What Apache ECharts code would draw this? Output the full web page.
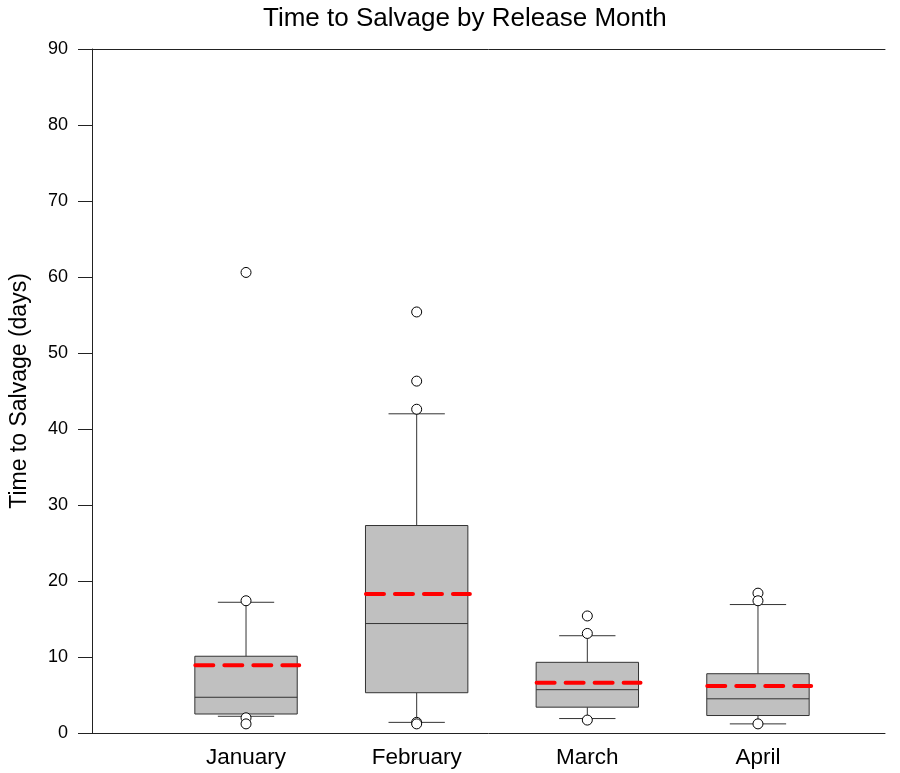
<!DOCTYPE html>
<html>
<head>
<meta charset="utf-8">
<title>Time to Salvage by Release Month</title>
<style>
  html, body { margin: 0; padding: 0; background: #fff; }
  #chart { width: 900px; height: 773px; }
</style>
</head>
<body>
<div id="chart"></div>
<script src="https://cdn.jsdelivr.net/npm/echarts@6/dist/echarts.min.js"></script>
<script>
  // data
  var months = ['January', 'February', 'March', 'April'];
  var whiskerLow = [2.2, 1.4, 1.9, 1.2];
  var q1 = [2.5, 5.3, 3.4, 2.3];
  var median = [4.7, 14.4, 5.7, 4.5];
  var q3 = [10.1, 27.3, 9.3, 7.8];
  var whiskerHigh = [17.2, 42.0, 12.8, 16.9];
  var means = [8.9, 18.3, 6.6, 6.2];
  var outliers = [
    ['January', 60.6], ['January', 17.4], ['January', 2.0], ['January', 1.2],
    ['February', 55.4], ['February', 46.3], ['February', 42.6], ['February', 1.4], ['February', 1.2],
    ['March', 15.4], ['March', 13.1], ['March', 1.7],
    ['April', 18.4], ['April', 17.4], ['April', 1.2]
  ];
  var yTicks = { min: 0, max: 90, interval: 10 };

  var boxRows = months.map(function (m, i) {
    return [m, whiskerLow[i], q1[i], median[i], q3[i], whiskerHigh[i], means[i]];
  });

  var font = 'Liberation Sans, Arial, sans-serif';

  function renderBox(params, api) {
    var x = api.value(0);
    var pLow = api.coord([x, api.value(1)]);
    var pQ1 = api.coord([x, api.value(2)]);
    var pMed = api.coord([x, api.value(3)]);
    var pQ3 = api.coord([x, api.value(4)]);
    var pHigh = api.coord([x, api.value(5)]);
    var pMean = api.coord([x, api.value(6)]);
    var band = api.size([1, 0])[0];
    var bw = band * 0.6;
    var cw = band * 0.165;
    var cx = pMed[0];
    var thin = { stroke: '#333', lineWidth: 1 };
    return {
      type: 'group',
      children: [
        { type: 'line', shape: { x1: cx, y1: pQ3[1], x2: cx, y2: pHigh[1] }, style: thin },
        { type: 'line', shape: { x1: cx, y1: pQ1[1], x2: cx, y2: pLow[1] }, style: thin },
        { type: 'line', shape: { x1: cx - cw, y1: pHigh[1], x2: cx + cw, y2: pHigh[1] }, style: thin },
        { type: 'line', shape: { x1: cx - cw, y1: pLow[1], x2: cx + cw, y2: pLow[1] }, style: thin },
        {
          type: 'rect',
          shape: { x: cx - bw / 2, y: pQ3[1], width: bw, height: pQ1[1] - pQ3[1] },
          style: { fill: '#c0c0c0', stroke: '#333', lineWidth: 1 }
        },
        { type: 'line', shape: { x1: cx - bw / 2, y1: pMed[1], x2: cx + bw / 2, y2: pMed[1] }, style: { stroke: '#333', lineWidth: 1 } },
        {
          type: 'line',
          shape: { x1: cx - bw / 2 + 0.5, y1: pMean[1], x2: cx + bw / 2 + 2, y2: pMean[1] },
          style: { stroke: '#ff0000', lineWidth: 4, lineDash: [18, 11], lineCap: 'round' }
        }
      ]
    };
  }

  var chart = echarts.init(document.getElementById('chart'));
  var option = {
    animation: false,
    title: {
      text: 'Time to Salvage by Release Month',
      left: 258,
      top: 1,
      textStyle: { fontFamily: font, fontSize: 26, fontWeight: 'normal', color: '#000' }
    },
    grid: [
      { left: 92, right: 15, top: 49, bottom: 40 },
      { left: 160.7, right: 56.7, top: 49, bottom: 40 }
    ],
    xAxis: [
      {
        gridIndex: 0, type: 'value', position: 'bottom', min: 0, max: 1,
        axisLine: { show: true, lineStyle: { color: '#222', width: 1 } },
        axisTick: { show: false }, axisLabel: { show: false }, splitLine: { show: false }
      },
      {
        gridIndex: 0, type: 'value', position: 'top', min: 0, max: 1,
        axisLine: { show: true, lineStyle: { color: '#222', width: 1 } },
        axisTick: { show: false }, axisLabel: { show: false }, splitLine: { show: false }
      },
      {
        gridIndex: 1, type: 'category', data: months, boundaryGap: true,
        axisLine: { show: false }, axisTick: { show: false },
        axisLabel: { margin: 13, fontFamily: font, fontSize: 22.5, color: '#000' }
      }
    ],
    yAxis: [
      {
        gridIndex: 0, type: 'value', min: yTicks.min, max: yTicks.max, interval: yTicks.interval,
        name: 'Time to Salvage (days)', nameLocation: 'middle', nameGap: 61,
        nameTextStyle: { fontFamily: font, fontSize: 23, color: '#000' },
        axisLine: { show: true, lineStyle: { color: '#222', width: 1 } },
        axisTick: { show: true, inside: false, length: 14, lineStyle: { color: '#222' } },
        axisLabel: { margin: 24, fontFamily: font, fontSize: 18, color: '#000' },
        splitLine: { show: false }
      },
      {
        gridIndex: 1, type: 'value', min: yTicks.min, max: yTicks.max,
        show: false, splitLine: { show: false }
      }
    ],
    series: [
      {
        type: 'custom',
        xAxisIndex: 2,
        yAxisIndex: 1,
        renderItem: renderBox,
        encode: { x: 0, y: [1, 2, 3, 4, 5, 6] },
        data: boxRows,
        z: 2
      },
      {
        type: 'scatter',
        xAxisIndex: 2,
        yAxisIndex: 1,
        data: outliers,
        symbol: 'circle',
        symbolSize: 10,
        itemStyle: { color: '#fff', borderColor: '#000', borderWidth: 1, opacity: 1 },
        z: 5
      }
    ]
  };
  chart.setOption(option);
</script>
</body>
</html>
